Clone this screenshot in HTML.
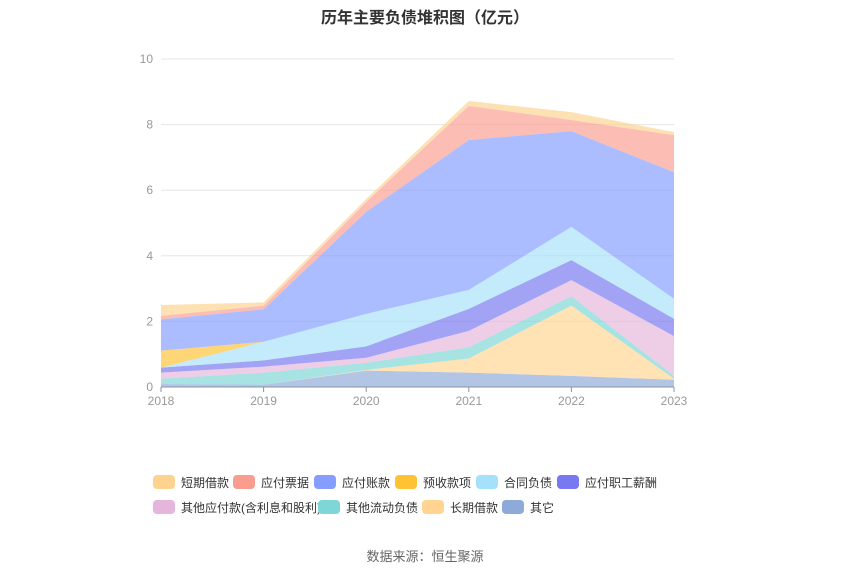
<!DOCTYPE html>
<html><head><meta charset="utf-8"><style>
body{margin:0;background:#fff;font-family:"Liberation Sans","Noto Sans CJK SC",sans-serif;}
#wrap{position:relative;width:850px;height:575px;overflow:hidden;}
.t{position:absolute;white-space:nowrap;}
.leg{position:absolute;font-size:12px;color:#333;display:flex;align-items:center;height:16px;}
.sw{width:22px;height:14px;border-radius:4px;margin-right:6px;}
</style></head><body>
<div id="wrap">
<div class="t" style="left:0;width:850px;text-align:center;top:4px;font-size:16px;font-weight:bold;color:#333;">历年主要负债堆积图（亿元）</div>
<svg id="chart" width="850" height="575" style="position:absolute;left:0;top:0"></svg>
<div id="legend"></div>
<div class="t" style="left:0;width:850px;text-align:center;top:546px;font-size:13px;color:#666;">数据来源：恒生聚源</div>
</div>
<script>
const years=["2018","2019","2020","2021","2022","2023"];
const yTicks=[0,2,4,6,8,10];
const seriesNames=["其它","长期借款","其他流动负债","其他应付款(含利息和股利)","应付职工薪酬","合同负债","预收款项","应付账款","应付票据","短期借款"];
const sOther=[0.09,0.07,0.50,0.44,0.34,0.22];
const sLongLoan=[0,0,0.02,0.43,2.14,0.03];
const sOtherCurrent=[0.16,0.37,0.22,0.34,0.29,0.09];
const sOtherPayable=[0.19,0.18,0.15,0.50,0.49,1.21];
const sPayroll=[0.15,0.19,0.35,0.67,0.61,0.53];
const sContract=[0,0.57,0.99,0.58,1.01,0.61];
const sAdvance=[0.52,0,0,0,0,0];
const sPayable=[0.95,0.99,3.11,4.57,2.92,3.86];
const sNotes=[0.11,0.11,0.30,1.04,0.34,1.13];
const sShortLoan=[0.33,0.10,0.09,0.15,0.24,0.09];
const allSeries=[sOther,sLongLoan,sOtherCurrent,sOtherPayable,sPayroll,sContract,sAdvance,sPayable,sNotes,sShortLoan];
const colors=["#8eaad8","#ffd591","#7fd6d6","#e6b5dc","#7878f0","#a6e1fb","#ffc233","#859dff","#f99d90","#fdd38f"];
const x0=161,x1=674,yb=387,yt=59,ymax=10;
const X=i=>x0+(x1-x0)*i/(years.length-1);
const Y=v=>yb-(yb-yt)*v/ymax;
const svg=document.getElementById('chart');
const NS="http://www.w3.org/2000/svg";
function mk(tag,attrs){const e=document.createElementNS(NS,tag);for(const k in attrs)e.setAttribute(k,attrs[k]);svg.appendChild(e);return e;}
yTicks.forEach(v=>{
 const g=mk('line',{x1:x0,x2:x1,y1:Y(v),y2:Y(v),stroke:'#e6e6e6'});
 
 
 const t=mk('text',{x:x0-8,y:Y(v)+4,'text-anchor':'end','font-size':12,fill:'#999'});
 t.textContent=v;
 
 
});
let base=years.map(()=>0);
allSeries.forEach((s,k)=>{
 const top=base.map((b,i)=>b+s[i]);
 let d='M'+top.map((v,i)=>X(i)+','+Y(v)).join('L');
 for(let i=years.length-1;i>=0;i--)d+='L'+X(i)+','+Y(base[i]);
 const p=mk('path',{d:d+'Z',fill:colors[k],'fill-opacity':0.68,stroke:'none'});
 
 
 base=top;
});
const ax=mk('line',{x1:x0,x2:x1,y1:yb,y2:yb,stroke:'#8a94a8'});


years.forEach((y,i)=>{
 const tk=mk('line',{x1:X(i),x2:X(i),y1:yb,y2:yb+5,stroke:'#8a94a8'});
 
 
 const t=mk('text',{x:X(i),y:yb+18,'text-anchor':'middle','font-size':12,fill:'#999'});
 t.textContent=y;
 
 
});
const legendOrder=[9,8,7,6,5,4,3,2,1,0];
const legPos=[[153,474],[233,474],[314,474],[395,474],[476,474],[557,474],[153,499],[318,499],[422,499],[502,499]];
const L=document.getElementById('legend');
legendOrder.forEach((k,j)=>{
 const d=document.createElement('div');
 d.className='leg';
 d.style.left=legPos[j][0]+'px';d.style.top=legPos[j][1]+'px';
 d.innerHTML='<span class="sw" style="background:'+colors[k]+'"></span>'+seriesNames[k];
 
 
 L.appendChild(d);
});
</script>
</body></html>
